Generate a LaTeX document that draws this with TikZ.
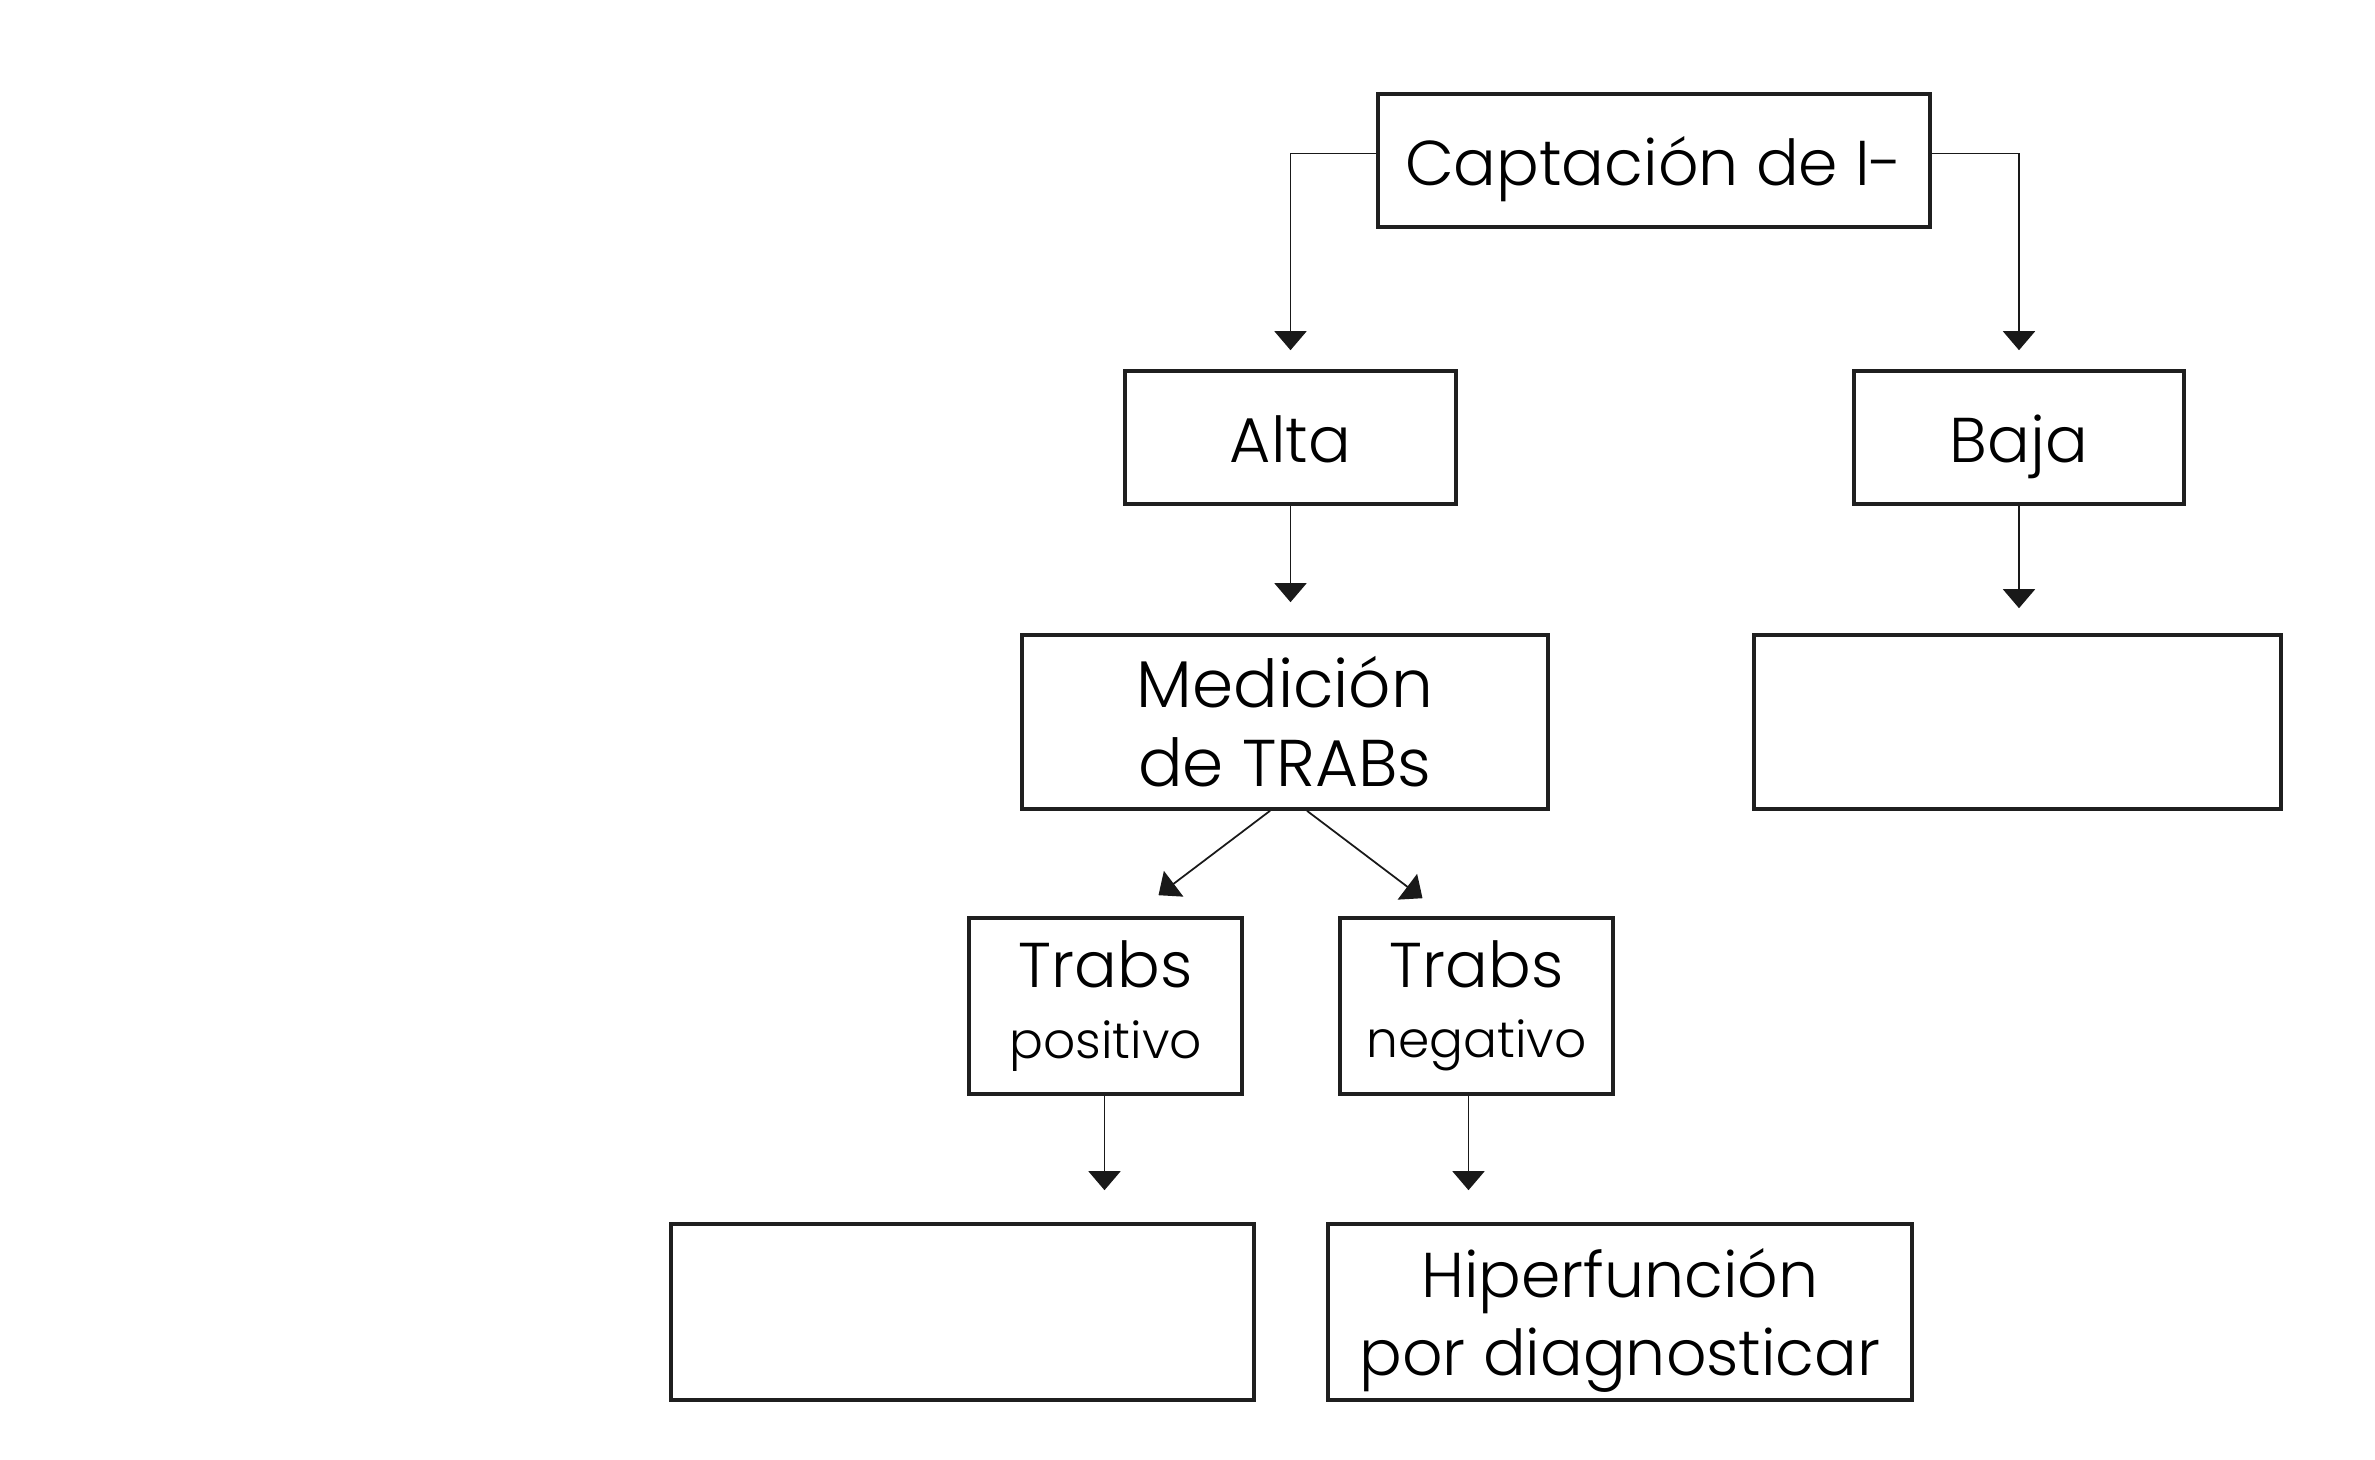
\documentclass[tikz,border=0pt]{standalone}
\usepackage{fontspec}
\setmainfont{Poppins}[UprightFont={* Light}]
\usetikzlibrary{arrows.meta,calc}
\tikzset{
  box/.style={draw=black!88, line width=1pt, rectangle, inner sep=0pt, align=center, font=\fontsize{18}{22}\selectfont},
  oneline/.style={text height=18.2pt, text depth=4pt},
  conn/.style={draw=black!90, line width=0.5pt, -{Triangle[width=0.32cm,length=0.19cm]}},
}
\begin{document}
\begin{tikzpicture}[x=0.01cm,y=-0.01cm]
\useasboundingbox (0,0) rectangle (2375,1459);
\node[box, oneline, minimum width=5.52cm, minimum height=1.33cm] (cap) at (1654,160.5) {Captación de I-};
\node[box, oneline, minimum width=3.31cm, minimum height=1.33cm] (alta) at (1290.5,437.5) {Alta};
\node[box, oneline, minimum width=3.30cm, minimum height=1.33cm] (baja) at (2019,437.5) {Baja};
\node[box, minimum width=5.26cm, minimum height=1.74cm, font=\fontsize{18.8}{22.5}\selectfont] (med) at (1285,722) {Medición\\de TRABs};
\node[box, minimum width=5.27cm, minimum height=1.74cm] (er) at (2017.5,722) {};
\node[box, minimum width=2.73cm, minimum height=1.76cm] (tpos) at (1105.5,1006) {Trabs\\[-2pt]{\fontsize{14.3}{17}\selectfont positivo}};
\node[box, minimum width=2.73cm, minimum height=1.76cm] (tneg) at (1476.5,1006) {Trabs\\[-2pt]{\fontsize{14.3}{17}\selectfont negativo}};
\node[box, minimum width=5.83cm, minimum height=1.76cm] (ebl) at (962.5,1312) {};
\node[box, minimum width=5.84cm, minimum height=1.76cm, text depth=0pt] (hip) at (1620,1312) {Hiperfunción\\por diagnosticar};

\draw[conn, shorten >=0.19cm] ($(cap.west)+(0,-7)$) -| (alta.north);
\draw[conn, shorten >=0.19cm] ($(cap.east)+(0,-7)$) -| (baja.north);
\draw[conn, shorten >=0.31cm] (alta.south) -- (alta.south |- med.north);
\draw[conn, shorten >=0.25cm] (baja.south) -- (baja.south |- er.north);
\coordinate (dl) at ($(tpos.north)+(53,-21)$);
\coordinate (dr) at ($(tneg.north)+(-54,-18)$);
\draw[conn] ($(med.south)+(-15,0)$) -- (dl);
\draw[conn] ($(med.south)+(22,0)$) -- (dr);
\draw[conn, shorten >=0.32cm] ($(tpos.south)+(-1,0)$) -- ($(tpos.south |- ebl.north)+(-1,0)$);
\draw[conn, shorten >=0.32cm] ($(tneg.south)+(-8,0)$) -- ($(tneg.south |- hip.north)+(-8,0)$);
\end{tikzpicture}
\end{document}
